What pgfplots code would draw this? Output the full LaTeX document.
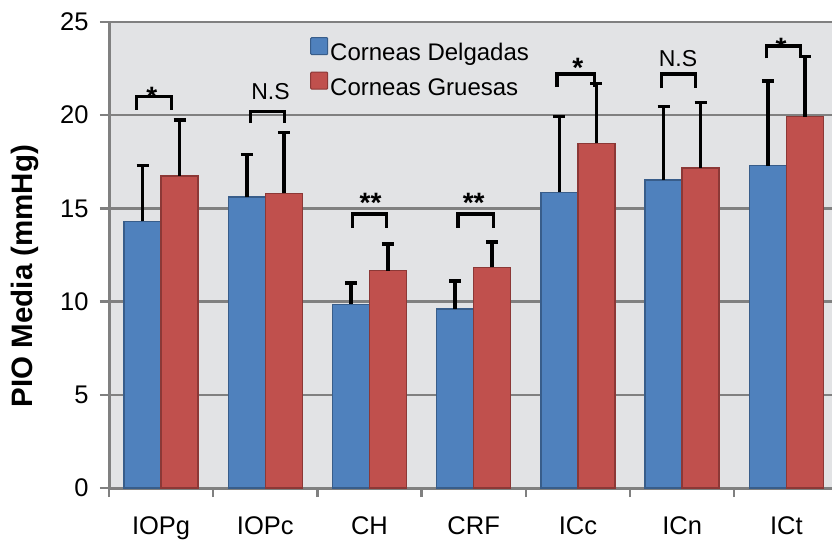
\documentclass[border=0pt]{standalone}
\usepackage{pgfplots}
\pgfplotsset{compat=1.18}
\usepackage{fontspec}
\setmainfont{Liberation Sans}
\definecolor{bblue}{RGB}{79,129,189}
\definecolor{bblueE}{RGB}{56,93,138}
\definecolor{rred}{RGB}{192,80,77}
\definecolor{rredE}{RGB}{140,56,54}
\definecolor{bg}{RGB}{226,227,229}
\definecolor{gridc}{RGB}{128,128,128}
\newcommand{\tfont}{\fontsize{25.5}{28}\selectfont}
\newcommand{\lfont}{\fontsize{24}{28}\selectfont}
\newcommand{\sfont}{\fontsize{28}{30}\selectfont\bfseries}
\begin{document}
\begin{tikzpicture}
\useasboundingbox (0,0) rectangle (832pt,539pt);
\begin{axis}[
  at={(109pt,51pt)}, anchor=south west,
  scale only axis, width=723pt, height=466pt,
  xmin=-0.5, xmax=6.4386, ymin=0, ymax=25,
  ytick={0,5,...,25},
  xtick={0,...,6}, xticklabels={IOPg,IOPc,CH,CRF,ICc,ICn,ICt},
  minor xtick={-0.5,0.5,...,5.5},
  major x tick style={draw=none},
  tick align=outside, major tick length=9pt, minor tick length=9pt,
  tick style={gridc, line width=2.5pt},
  ymajorgrids, grid style={gridc, line width=2.5pt},
  axis x line*=bottom, axis y line*=left,
  axis line style={gridc, line width=3pt, -},
  axis background/.style={fill=bg},
  /pgf/number format/assume math mode=true,
  tick label style={font=\tfont, black},
  xticklabel style={text height=18pt, text depth=5pt, yshift=-16pt},
  yticklabel style={xshift=-8pt},
  ylabel={\textbf{PIO Media (mmHg)}},
  ylabel style={font=\fontsize{29.5}{32}\selectfont, at={(axis description cs:-0.116,0.455)}, anchor=center},
  legend style={at={(rel axis cs:0.278,0.968)}, anchor=north west, draw=none, fill=none,
    font=\lfont, row sep=4pt, inner sep=0pt,
    nodes={inner sep=2pt, text height=17pt, text depth=5pt}},
  legend cell align=left,
]
\addplot[ybar, bar width=0.355, bar shift=0pt, fill=bblue, draw=bblueE, line width=1.5pt,
  legend image code/.code={\draw[fill=bblue,draw=bblueE,line width=1pt,rounded corners=1pt] (0pt,0pt) rectangle (17pt,17pt);},
  error bars/.cd, y dir=plus, y explicit,
  error bar style={black, line width=3.5pt},
  error mark options={black, line width=3.5pt, mark size=6pt, rotate=90}]
  coordinates {(-0.1775,14.3) +- (0,3.0) (0.8225,15.6) +- (0,2.3) (1.8225,9.85) +- (0,1.15) (2.8225,9.6) +- (0,1.5)
               (3.8225,15.86) +- (0,4.06) (4.8225,16.52) +- (0,3.94) (5.8225,17.29) +- (0,4.54)};
\addlegendentry{Corneas Delgadas}
\addplot[ybar, bar width=0.355, bar shift=0pt, fill=rred, draw=rredE, line width=1.5pt,
  legend image code/.code={\draw[fill=rred,draw=rredE,line width=1pt,rounded corners=1pt] (0pt,0pt) rectangle (17pt,17pt);},
  error bars/.cd, y dir=plus, y explicit,
  error bar style={black, line width=3.5pt},
  error mark options={black, line width=3.5pt, mark size=6pt, rotate=90}]
  coordinates {(0.1775,16.75) +- (0,3.0) (1.1775,15.8) +- (0,3.28) (2.1775,11.66) +- (0,1.43) (3.1775,11.84) +- (0,1.36)
               (4.1775,18.49) +- (0,3.21) (5.1775,17.18) +- (0,3.49) (6.1775,19.92) +- (0,3.22)};
\addlegendentry{Corneas Gruesas}
% significance brackets
\addplot[black, line width=3.2pt, no markers, forget plot] coordinates {(-0.233,20.28) (-0.233,20.99) (0.096,20.99) (0.096,20.28)};
\addplot[black, line width=3.2pt, no markers, forget plot] coordinates {(0.856,19.57) (0.856,20.19) (1.185,20.19) (1.185,19.57)};
\addplot[black, line width=3.2pt, no markers, forget plot] coordinates {(1.84,13.97) (1.84,14.7) (2.16,14.7) (2.16,13.97)};
\addplot[black, line width=3.2pt, no markers, forget plot] coordinates {(2.85,13.97) (2.85,14.7) (3.19,14.7) (3.19,13.97)};
\addplot[black, line width=3.2pt, no markers, forget plot] coordinates {(3.80,21.5) (3.80,22.21) (4.16,22.21) (4.16,21.5)};
\addplot[black, line width=3.2pt, no markers, forget plot] coordinates {(4.80,21.44) (4.80,22.21) (5.13,22.21) (5.13,21.44)};
\addplot[black, line width=3.2pt, no markers, forget plot] coordinates {(5.81,23.05) (5.81,23.71) (6.14,23.71) (6.14,23.05)};
\node[anchor=base, font=\sfont] at (axis cs:-0.09,20.49) {*};
\node[anchor=base, font=\fontsize{23}{26}\selectfont] at (axis cs:1.05,20.82) {N.S};
\node[anchor=base, font=\sfont] at (axis cs:2.01,14.77) {**};
\node[anchor=base, font=\sfont] at (axis cs:3.0,14.77) {**};
\node[anchor=base, font=\sfont] at (axis cs:4.0,22.01) {*};
\node[anchor=base, font=\fontsize{23}{26}\selectfont] at (axis cs:4.96,22.6) {N.S};
\node[anchor=base, font=\sfont] at (axis cs:5.95,23.08) {*};
\end{axis}
\end{tikzpicture}
\end{document}
